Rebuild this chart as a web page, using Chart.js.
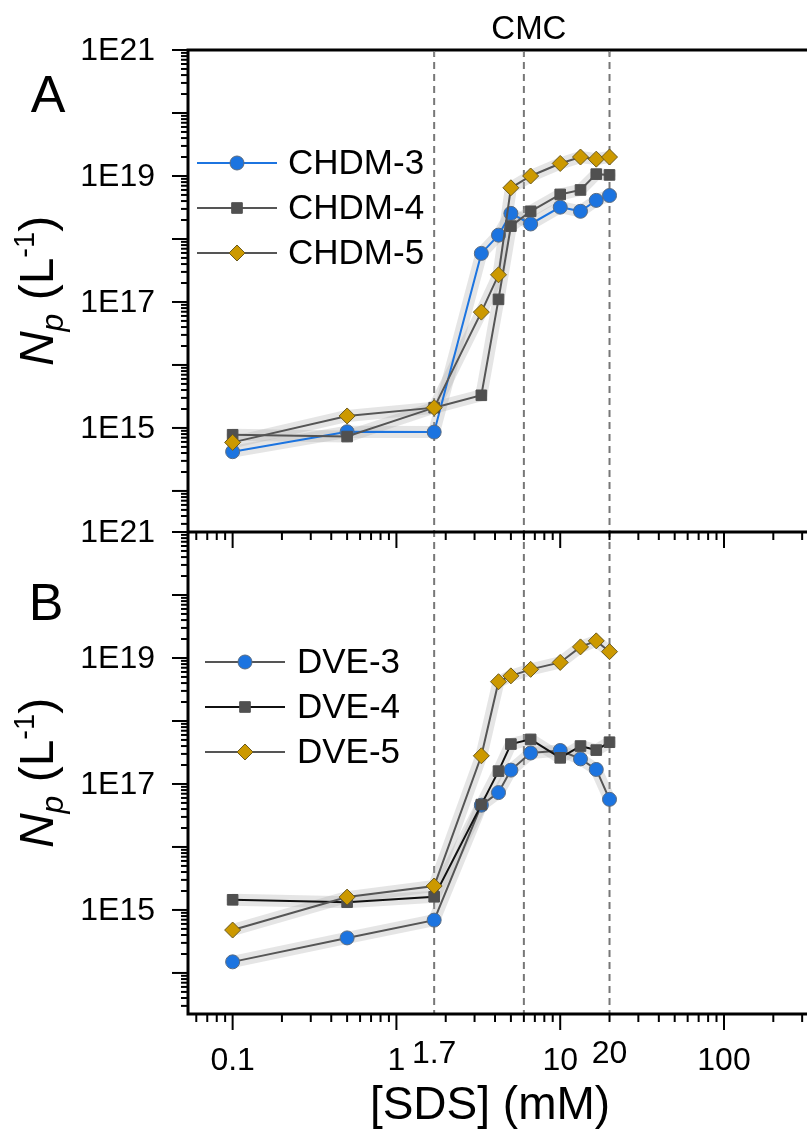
<!DOCTYPE html>
<html>
<head>
<meta charset="utf-8">
<script src="https://cdn.jsdelivr.net/npm/chart.js@4.4.0/dist/chart.umd.min.js"></script>
<style>
  html, body { margin: 0; padding: 0; background: #fff; }
  #wrap { width: 807px; height: 1133px; }
</style>
</head>
<body>
<div id="wrap"><canvas id="chart" width="807" height="1133"></canvas></div>
<script>
// Concentración de SDS (mM)
const sds = [0.1, 0.5, 1.7, 3.3, 4.2, 5, 6.6, 10, 13.3, 16.6, 20];
// Líneas discontinuas (CMC)
const cmcLines = [1.7, 6, 20];

// Panel A
const chdm3 = [4.2e14, 8.7e14, 8.6e14, 5.9e17, 1.15e18, 2.55e18, 1.73e18, 3.2e18, 2.75e18, 4.1e18, 4.9e18];
const chdm4 = [7.8e14, 7.3e14, 2.1e15, 3.3e15, 1.1e17, 1.6e18, 2.75e18, 5.1e18, 6.0e18, 1.07e19, 1.04e19];
const chdm5 = [5.9e14, 1.55e15, 2.1e15, 6.9e16, 2.7e17, 6.5e18, 1.0e19, 1.58e19, 2.0e19, 1.85e19, 2.0e19];

// Panel B
const dve3 = [1.5e14, 3.6e14, 6.9e14, 4.6e16, 7.3e16, 1.66e17, 3.1e17, 3.4e17, 2.5e17, 1.7e17, 5.7e16];
const dve4 = [1.45e15, 1.33e15, 1.62e15, 4.7e16, 1.6e17, 4.3e17, 5.1e17, 2.6e17, 4.0e17, 3.45e17, 4.6e17];
const dve5 = [4.8e14, 1.6e15, 2.4e15, 2.8e17, 4.2e18, 5.2e18, 6.6e18, 8.5e18, 1.5e19, 1.87e19, 1.26e19];

// Etiquetas de ejes
const xTickValues = [0.1, 1, 10, 100];
const xTickText = ['0.1', '1', '10', '100'];
const xMarkValues = [1.7, 20];
const xMarkText = ['1.7', '20'];
const yTickValues = [1e21, 1e19, 1e17, 1e15];
const yTickText = ['1E21', '1E19', '1E17', '1E15'];

const BLUE = '#1c74e0';
const DARK = '#555555';
const SQUARE = '#505050';
const GOLD = '#cc9900';
const FONT = '"Liberation Sans", Arial, sans-serif';

const seriesA = [
    { label: 'CHDM-3', data: chdm3, line: BLUE, fill: BLUE, edge: '#5a6b80', style: 'circle', r: 7 },
    { label: 'CHDM-4', data: chdm4, line: DARK, fill: SQUARE, edge: SQUARE, style: 'rect', r: 7.5 },
    { label: 'CHDM-5', data: chdm5, line: DARK, fill: GOLD, edge: '#6b5a1e', style: 'rectRot', r: 8 }
];
const seriesB = [
    { label: 'DVE-3', data: dve3, line: DARK, fill: BLUE, edge: '#5a6b80', style: 'circle', r: 7 },
    { label: 'DVE-4', data: dve4, line: '#111111', fill: SQUARE, edge: SQUARE, style: 'rect', r: 7.5 },
    { label: 'DVE-5', data: dve5, line: DARK, fill: GOLD, edge: '#6b5a1e', style: 'rectRot', r: 8 }
];

function buildDatasets(series, axis) {
    const out = [];
    series.forEach((s, i) => {
        const pts = sds.map((x, j) => ({ x, y: s.data[j] }));
        // banda gris de incertidumbre
        out.push({
            data: pts, yAxisID: axis, order: 20,
            borderColor: 'rgba(175, 175, 175, 0.33)', borderWidth: 12,
            pointRadius: 0, borderJoinStyle: 'round', borderCapStyle: 'round'
        });
        out.push({
            label: s.label, data: pts, yAxisID: axis, order: 3 - i,
            borderColor: s.line, borderWidth: 2,
            pointStyle: s.style, pointRadius: s.r,
            pointBackgroundColor: s.fill, pointBorderColor: s.edge, pointBorderWidth: 1
        });
    });
    return out;
}

function drawMarker(ctx, s, x, y) {
    ctx.save();
    ctx.fillStyle = s.fill;
    ctx.strokeStyle = s.edge;
    ctx.lineWidth = 1;
    ctx.beginPath();
    if (s.style === 'circle') {
        ctx.arc(x, y, s.r, 0, Math.PI * 2);
    } else if (s.style === 'rect') {
        const h = s.r * Math.SQRT1_2;
        ctx.rect(x - h, y - h, 2 * h, 2 * h);
    } else {
        ctx.moveTo(x, y - s.r); ctx.lineTo(x + s.r, y);
        ctx.lineTo(x, y + s.r); ctx.lineTo(x - s.r, y); ctx.closePath();
    }
    ctx.fill();
    ctx.stroke();
    ctx.restore();
}

function drawLegend(ctx, series, x1, x2, xt, y0, dy) {
    series.forEach((s, i) => {
        const y = y0 + i * dy;
        ctx.save();
        ctx.strokeStyle = s.line;
        ctx.lineWidth = 2;
        ctx.beginPath(); ctx.moveTo(x1, y); ctx.lineTo(x2, y); ctx.stroke();
        ctx.restore();
        drawMarker(ctx, s, (x1 + x2) / 2, y);
        ctx.fillStyle = '#000';
        ctx.font = `35px ${FONT}`;
        ctx.textAlign = 'left';
        ctx.textBaseline = 'middle';
        ctx.fillText(s.label, xt, y + 1);
    });
}

// Título vertical N_p (L^-1) con subíndice y superíndice
function drawYTitle(ctx, cx, cy) {
    const parts = [
        { t: 'N', f: `italic 48px ${FONT}`, dy: 0 },
        { t: 'p', f: `italic 32px ${FONT}`, dy: 10 },
        { t: ' (L', f: `48px ${FONT}`, dy: 0 },
        { t: '-1', f: `29px ${FONT}`, dy: -19 },
        { t: ')', f: `48px ${FONT}`, dy: 0 }
    ];
    ctx.save();
    let w = 0;
    parts.forEach(p => { ctx.font = p.f; p.w = ctx.measureText(p.t).width; w += p.w; });
    ctx.translate(cx, cy);
    ctx.rotate(-Math.PI / 2);
    ctx.fillStyle = '#000';
    ctx.textBaseline = 'alphabetic';
    ctx.textAlign = 'left';
    let x = -w / 2;
    parts.forEach(p => { ctx.font = p.f; ctx.fillText(p.t, x, 17 + p.dy); x += p.w; });
    ctx.restore();
}

const frame = {
    id: 'frame',
    beforeDatasetsDraw(chart) {
        const { ctx, chartArea: a, scales: { x } } = chart;
        ctx.save();
        ctx.strokeStyle = '#777777';
        ctx.lineWidth = 2;
        ctx.setLineDash([7, 5]);
        cmcLines.forEach(v => {
            const px = x.getPixelForValue(v);
            ctx.beginPath(); ctx.moveTo(px, a.top); ctx.lineTo(px, a.bottom); ctx.stroke();
        });
        ctx.restore();
    },
    afterDraw(chart) {
        const { ctx, chartArea: a, scales: { x, yA, yB } } = chart;
        const left = a.left;
        ctx.save();
        ctx.strokeStyle = '#000';
        ctx.lineCap = 'butt';

        // Ejes: izquierda, arriba, centro, abajo
        ctx.lineWidth = 3;
        ctx.beginPath();
        ctx.moveTo(left, a.top - 1.5); ctx.lineTo(left, a.bottom + 1.5);
        ctx.moveTo(left - 1.5, a.top); ctx.lineTo(chart.width, a.top);
        ctx.moveTo(left - 1.5, yA.bottom); ctx.lineTo(chart.width, yA.bottom);
        ctx.moveTo(left - 1.5, yB.bottom); ctx.lineTo(chart.width, yB.bottom);
        ctx.stroke();

        // Marcas logarítmicas del eje y
        ctx.lineWidth = 2;
        [yA, yB].forEach(s => {
            for (let e = 12; e <= 21; e++) {
                for (let k = 1; k <= 9; k++) {
                    const v = k * Math.pow(10, e);
                    if (v < s.min * 0.999 || v > s.max * 1.001) continue;
                    const py = s.getPixelForValue(v);
                    const len = k === 1 ? 16 : 7;
                    ctx.beginPath(); ctx.moveTo(left - len, py); ctx.lineTo(left, py); ctx.stroke();
                }
            }
        });

        // Marcas logarítmicas del eje x (bajo cada panel)
        [yA.bottom, yB.bottom].forEach(by => {
            for (let e = -2; e <= 3; e++) {
                for (let k = 1; k <= 9; k++) {
                    const v = k * Math.pow(10, e);
                    const px = x.getPixelForValue(v);
                    if (v < x.min || px > chart.width) continue;
                    const len = k === 1 ? 16 : 8;
                    ctx.beginPath(); ctx.moveTo(px, by); ctx.lineTo(px, by + len); ctx.stroke();
                }
            }
        });

        // Marcas pequeñas arriba en las líneas CMC
        ctx.strokeStyle = '#888';
        ctx.lineWidth = 1.5;
        cmcLines.forEach(v => {
            const px = x.getPixelForValue(v);
            ctx.beginPath(); ctx.moveTo(px, a.top + 1); ctx.lineTo(px, a.top + 6); ctx.stroke();
        });

        // Etiquetas eje y
        ctx.fillStyle = '#000';
        ctx.font = `32px ${FONT}`;
        ctx.textAlign = 'right';
        ctx.textBaseline = 'middle';
        [yA, yB].forEach(s => {
            yTickValues.forEach((v, i) => {
                if (v < s.min || v > s.max) return;
                ctx.fillText(yTickText[i], left - 33, s.getPixelForValue(v) + 1);
            });
        });

        // Etiquetas eje x
        ctx.textAlign = 'center';
        ctx.textBaseline = 'alphabetic';
        xTickValues.forEach((v, i) => ctx.fillText(xTickText[i], x.getPixelForValue(v), yB.bottom + 56));
        xMarkValues.forEach((v, i) => ctx.fillText(xMarkText[i], x.getPixelForValue(v), yB.bottom + 49));

        ctx.font = `46px ${FONT}`;
        ctx.textBaseline = 'middle';
        ctx.fillText('[SDS] (mM)', 490, yB.bottom + 92);

        ctx.font = `33px ${FONT}`;
        ctx.fillText('CMC', x.getPixelForValue(6) + 5, 30);

        ctx.font = `52px ${FONT}`;
        ctx.fillText('A', 48, 98);
        ctx.fillText('B', 46, 606);

        drawYTitle(ctx, 36, (yA.top + yA.bottom) / 2);
        drawYTitle(ctx, 36, (yB.top + yB.bottom) / 2);

        drawLegend(ctx, seriesA, 197, 277, 288, 163, 45);
        drawLegend(ctx, seriesB, 205, 285, 297, 662, 45);
        ctx.restore();
    }
};

const yMin = 2.23e13;
const yMax = 1e21;

new Chart(document.getElementById('chart'), {
    type: 'line',
    data: { datasets: [...buildDatasets(seriesA, 'yA'), ...buildDatasets(seriesB, 'yB')] },
    options: {
        responsive: false,
        animation: false,
        events: [],
        layout: { padding: { left: 188, top: 50, right: 0, bottom: 119 } },
        elements: { line: { tension: 0 } },
        plugins: { legend: { display: false }, tooltip: { enabled: false } },
        scales: {
            x: { type: 'logarithmic', min: 0.0534, max: 283, display: false },
            yA: { type: 'logarithmic', min: yMin, max: yMax, display: false, stack: 'panels', stackWeight: 1, weight: 2 },
            yB: { type: 'logarithmic', min: yMin, max: yMax, display: false, stack: 'panels', stackWeight: 1, weight: 1 }
        }
    },
    plugins: [frame]
});
</script>
</body>
</html>
